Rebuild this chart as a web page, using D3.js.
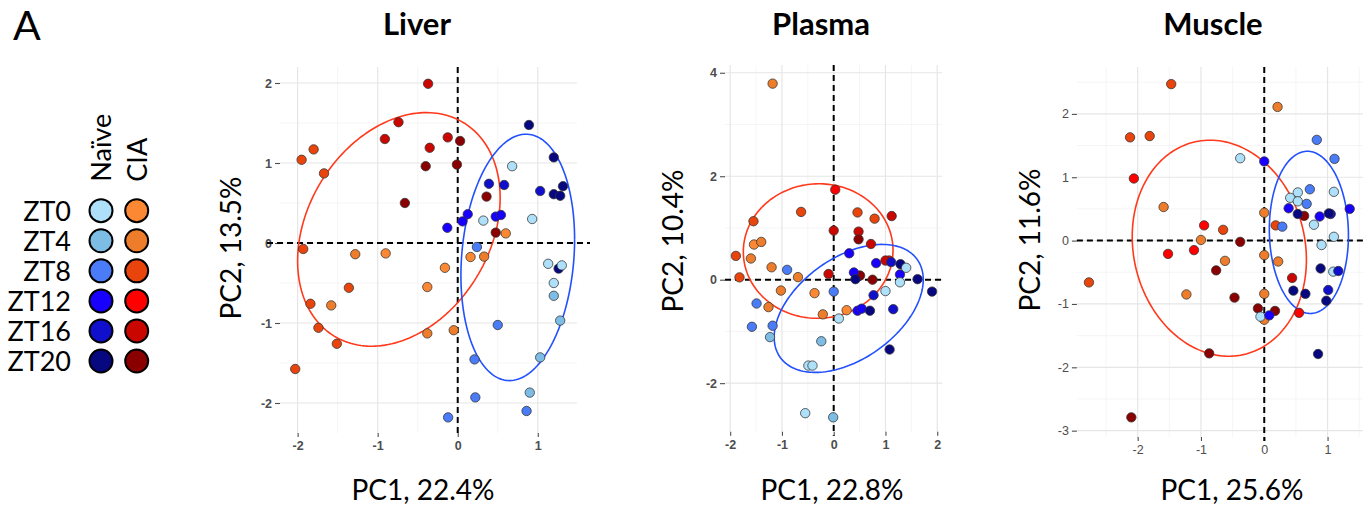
<!DOCTYPE html>
<html>
<head>
<meta charset="utf-8">
<script src="https://cdn.jsdelivr.net/npm/d3@7"></script>
<style>
  body { margin: 0; background: #fff; }
  svg { display: block; }
</style>
</head>
<body>
<script>
// ---- legend ----
const zts = ["ZT0", "ZT4", "ZT8", "ZT12", "ZT16", "ZT20"];
const ztHours = [0, 4, 8, 12, 16, 20];
const conditions = ["Naïve", "CIA"];
const naiveColors = ["#aee0fa", "#7cbce5", "#4a7cf8", "#1800ff", "#1010cc", "#07077f"];
const ciaColors = ["#fd8833", "#ee7d2b", "#e8440c", "#ff0000", "#c90700", "#8a0000"];

// ---- scores: [PC1, PC2, condition (0 = Naïve, 1 = CIA), ZT hour] ----
const liverPoints = [
  [-1.95, 1.04, 1, 8], [-1.80, 1.17, 1, 8], [-1.93, -0.075, 1, 8], [-2.03, -1.575, 1, 8],
  [-1.67, 0.87, 1, 8], [-1.84, -0.76, 1, 8], [-1.74, -1.06, 1, 8], [-1.51, -1.26, 1, 8], [-1.36, -0.56, 1, 8],
  [-0.37, 1.99, 1, 16], [-0.74, 1.51, 1, 16], [-0.91, 1.30, 1, 16], [-0.125, 1.32, 1, 16], [-0.35, 1.19, 1, 16],
  [0.03, 1.275, 1, 20], [-0.40, 0.96, 1, 20], [-0.01, 0.98, 1, 20], [-0.66, 0.50, 1, 20], [0.36, 0.58, 1, 20], [0.475, 0.13, 1, 20],
  [-1.28, -0.14, 1, 4], [-0.90, -0.13, 1, 0], [-1.58, -0.78, 1, 4], [-0.16, -0.31, 1, 0], [-0.38, -0.55, 1, 0],
  [-0.38, -1.13, 1, 4], [-0.05, -1.09, 1, 4], [0.16, -0.175, 1, 0], [0.33, -0.17, 1, 4], [0.60, 0.12, 1, 0],
  [0.89, 1.475, 0, 20], [1.20, 1.07, 0, 20], [1.20, 0.61, 0, 20], [1.28, 0.59, 0, 20], [1.315, 0.71, 0, 20], [1.26, -0.32, 0, 20],
  [1.03, 0.65, 0, 16], [0.39, 0.74, 0, 16], [0.58, 0.725, 0, 16],
  [0.125, 0.36, 0, 12], [0.06, 0.27, 0, 12], [-0.13, 0.19, 0, 12], [0.475, 0.33, 0, 12], [0.54, 0.35, 0, 12],
  [0.24, -0.05, 0, 8], [0.50, -1.025, 0, 8], [0.21, -1.455, 0, 8], [0.22, -1.93, 0, 8], [-0.12, -2.18, 0, 8], [0.86, -2.10, 0, 8],
  [0.68, 0.96, 0, 0], [0.93, 0.30, 0, 0], [0.32, 0.28, 0, 0], [1.13, -0.26, 0, 0], [1.30, -0.28, 0, 0], [1.20, -0.50, 0, 0],
  [1.20, -0.66, 0, 4], [1.28, -0.97, 0, 4], [1.03, -1.43, 0, 4], [0.90, -1.87, 0, 4]
];

const plasmaPoints = [
  [-1.18, 3.79, 1, 4], [-1.54, 0.68, 1, 0], [-1.40, 0.73, 1, 4], [-1.60, 0.41, 1, 4], [-1.20, 0.24, 1, 4],
  [-0.69, 0.05, 1, 4], [-1.02, -0.21, 1, 4], [-1.26, -0.53, 1, 4], [-0.37, -0.26, 1, 0], [-0.21, -0.67, 1, 4], [0.25, -0.59, 1, 0],
  [-1.55, 1.13, 1, 8], [-1.89, 0.46, 1, 8], [-1.82, 0.045, 1, 8], [-0.63, 1.31, 1, 8], [0.46, 1.30, 1, 8], [0.79, 1.18, 1, 8],
  [0.03, 1.74, 1, 12], [1.07, 0.37, 1, 12],
  [1.12, 1.23, 1, 16], [0.0, 0.95, 1, 16], [0.48, 0.93, 1, 16], [0.72, 0.69, 1, 16], [-0.10, 0.11, 1, 16], [1.0, 0.37, 1, 16],
  [0.48, 0.78, 1, 20], [0.51, 0.08, 1, 20], [0.75, 0.0, 1, 20],
  [0.30, 0.51, 0, 12], [0.82, 0.32, 0, 12], [0.39, 0.14, 0, 12], [0.46, -0.60, 0, 12], [0.54, -0.56, 0, 12], [1.28, 0.10, 0, 12],
  [1.11, 0.34, 0, 16], [0.77, -0.30, 0, 16], [1.15, -0.57, 0, 16],
  [1.29, 0.30, 0, 20], [0.42, 0.01, 0, 20], [1.62, 0.01, 0, 20], [1.90, -0.23, 0, 20], [0.70, -0.60, 0, 20], [1.08, -1.35, 0, 20],
  [0.0, -0.23, 0, 8], [-1.49, -0.46, 0, 8], [-1.58, -0.91, 0, 8], [-1.18, -0.89, 0, 8], [-0.90, 0.19, 0, 8],
  [1.40, 0.23, 0, 0], [1.28, -0.05, 0, 0], [1.0, -0.22, 0, 0], [0.10, -0.75, 0, 0], [-0.49, -1.66, 0, 0], [-0.41, -1.66, 0, 0], [-0.55, -2.58, 0, 0],
  [-1.23, -1.11, 0, 4], [-0.24, -1.19, 0, 4], [-0.01, -2.66, 0, 4]
];

const musclePoints = [
  [-1.47, 2.47, 1, 8], [-2.12, 1.63, 1, 8], [-1.81, 1.65, 1, 8], [0.18, 0.24, 1, 8], [-0.65, 0.17, 1, 8], [-2.77, -0.66, 1, 8],
  [-2.06, 0.98, 1, 12], [-0.95, 0.24, 1, 12], [-1.52, -0.21, 1, 12], [-1.11, -0.15, 1, 12], [0.55, -1.14, 1, 12],
  [0.44, -0.59, 1, 16],
  [-0.38, -0.02, 1, 20], [-0.76, -0.47, 1, 20], [-0.47, -0.90, 1, 20], [-0.10, -1.07, 1, 20], [-0.87, -1.78, 1, 20],
  [-2.10, -2.79, 1, 20], [0.17, -1.11, 1, 20], [0.63, 0.39, 1, 20],
  [0.21, 2.11, 1, 4], [-1.59, 0.53, 1, 4], [-1.0, 0.01, 1, 4], [-0.62, -0.32, 1, 4], [-1.23, -0.85, 1, 4],
  [0.0, 0.44, 1, 4], [0.0, -0.23, 1, 4], [0.22, -0.33, 1, 4], [0.0, -0.84, 1, 4], [0.0, -1.25, 1, 4],
  [-0.38, 1.30, 0, 0], [0.53, 0.76, 0, 0], [0.41, 0.675, 0, 0], [0.53, 0.62, 0, 0], [1.10, 0.77, 0, 0],
  [0.785, 0.25, 0, 0], [1.10, 0.06, 0, 0], [0.905, -0.07, 0, 0], [1.09, -0.49, 0, 0], [-0.06, -1.20, 0, 0],
  [0.83, 1.59, 0, 8], [1.11, 1.29, 0, 8], [0.72, 0.81, 0, 8], [0.67, 0.58, 0, 8], [0.285, 0.22, 0, 8],
  [0.0, 1.25, 0, 12], [0.385, 0.51, 0, 12], [0.875, 0.38, 0, 12], [1.35, 0.50, 0, 12], [0.08, -1.18, 0, 12],
  [1.05, 0.42, 0, 16], [1.17, -0.48, 0, 16], [1.01, -0.78, 0, 16],
  [0.53, 0.42, 0, 20], [1.02, 0.43, 0, 20], [0.89, -0.44, 0, 20], [0.46, -0.79, 0, 20], [0.65, -0.84, 0, 20],
  [0.98, -0.95, 0, 20], [0.85, -1.79, 0, 20]
];

// ---- confidence ellipses: [condition, centre PC1, centre PC2, half-width, half-height, cross term] ----
const liverEllipses = [[1, -0.735, 0.17, 1.265, 1.46, 0.50], [0, 0.75, -0.18, 0.71, 1.54, 0.16]];
const plasmaEllipses = [[1, -0.30, 0.554, 1.446, 1.30, 0.02], [0, 0.29, -0.555, 1.44, 1.237, 0.80]];
const muscleEllipses = [[1, -0.71, -0.12, 1.376, 1.705, -0.25], [0, 0.705, 0.13, 0.625, 1.28, -0.03]];

// ---- axes ----
const liverTicksX = [-2, -1, 0, 1];
const liverTicksY = [-2, -1, 0, 1, 2];
const plasmaTicksX = [-2, -1, 0, 1, 2];
const plasmaTicksY = [-2, 0, 2, 4];
const muscleTicksX = [-2, -1, 0, 1];
const muscleTicksY = [-3, -2, -1, 0, 1, 2];
const tissues = ["Liver", "Plasma", "Muscle"];
const pc1Labels = ["PC1, 22.4%", "PC1, 22.8%", "PC1, 25.6%"];
const pc2Labels = ["PC2, 13.5%", "PC2, 10.4%", "PC2, 11.6%"];

const ellipseColors = ["#2350ff", "#ff3a1c"];
const textFont = "Lato, 'Open Sans', sans-serif";

const W = 1369, H = 509;
const svg = d3.select("body").append("svg").attr("width", W).attr("height", H);

const panels = [
  { points: liverPoints, ellipses: liverEllipses, ticksX: liverTicksX, ticksY: liverTicksY,
    xDom: [-2.22, 1.49], xRange: [280, 577], yDom: [-2.375, 2.2], yRange: [433, 67],
    hExtend: 13, boldTicks: true, titleX: 417, pc1X: 423, pc2X: 241, pc2Y: 248 },
  { points: plasmaPoints, ellipses: plasmaEllipses, ticksX: plasmaTicksX, ticksY: plasmaTicksY,
    xDom: [-2.1, 2.1], xRange: [725, 942.4], yDom: [-2.94, 4.15], yRange: [431.8, 65],
    hExtend: 0, boldTicks: true, titleX: 821, pc1X: 832, pc2X: 683, pc2Y: 241 },
  { points: musclePoints, ellipses: muscleEllipses, ticksX: muscleTicksX, ticksY: muscleTicksY,
    xDom: [-2.96, 1.56], xRange: [1076.9, 1363.0], yDom: [-3.1, 2.74], yRange: [437, 67],
    hExtend: 0, boldTicks: false, titleX: 1213, pc1X: 1232, pc2X: 1040, pc2Y: 240 }
];

function minorBreaks(ticks, dom) {
  const step = ticks[1] - ticks[0];
  const out = [];
  for (let v = ticks[0] - step / 2; v <= dom[1]; v += step) {
    if (v >= dom[0]) out.push(v);
  }
  return out;
}

function ellipsePath(e, x, y) {
  const [, cx, cy, hx, hy, sxy] = e;
  const a = hx, c = sxy / hx, d = Math.sqrt(hy * hy - c * c);
  const pts = d3.range(0, 2 * Math.PI + 0.001, Math.PI / 90).map(t => [
    cx + a * Math.cos(t),
    cy + c * Math.cos(t) + d * Math.sin(t)
  ]);
  return d3.line().x(p => x(p[0])).y(p => y(p[1]))(pts);
}

panels.forEach((p, i) => {
  const x = d3.scaleLinear().domain(p.xDom).range(p.xRange);
  const y = d3.scaleLinear().domain(p.yDom).range(p.yRange);
  const g = svg.append("g");
  const [x0, x1] = p.xRange, [y0, y1] = [p.yRange[1], p.yRange[0]];

  // minor grid
  g.selectAll(".mx").data(minorBreaks(p.ticksX, p.xDom)).join("line")
    .attr("x1", d => x(d)).attr("x2", d => x(d)).attr("y1", y0).attr("y2", y1)
    .attr("stroke", "#f2f2f2").attr("stroke-width", 0.8);
  g.selectAll(".my").data(minorBreaks(p.ticksY, p.yDom)).join("line")
    .attr("y1", d => y(d)).attr("y2", d => y(d)).attr("x1", x0).attr("x2", x1)
    .attr("stroke", "#f2f2f2").attr("stroke-width", 0.8);
  // major grid
  g.selectAll(".gx").data(p.ticksX).join("line")
    .attr("x1", d => x(d)).attr("x2", d => x(d)).attr("y1", y0).attr("y2", y1)
    .attr("stroke", "#e6e6e6").attr("stroke-width", 1.2);
  g.selectAll(".gy").data(p.ticksY).join("line")
    .attr("y1", d => y(d)).attr("y2", d => y(d)).attr("x1", x0).attr("x2", x1)
    .attr("stroke", "#e6e6e6").attr("stroke-width", 1.2);

  // axes (tick marks and labels)
  const tickColor = "#4d4d4d";
  const xAxis = d3.axisBottom(x).tickValues(p.ticksX).tickSize(4).tickPadding(4).tickFormat(d3.format("d"));
  const yAxis = d3.axisLeft(y).tickValues(p.ticksY).tickSize(5).tickPadding(3).tickFormat(d3.format("d"));
  const ax = g.append("g").attr("transform", `translate(0,${y1})`).call(xAxis);
  const ay = g.append("g").attr("transform", `translate(${x0},0)`).call(yAxis);
  [ax, ay].forEach(a => {
    a.select(".domain").remove();
    a.selectAll("line").attr("stroke", tickColor).attr("stroke-width", 1.1);
    a.selectAll("text")
      .attr("fill", tickColor)
      .style("font-family", "'Liberation Sans', Arial, sans-serif")
      .style("font-size", "12.5px")
      .style("font-weight", p.boldTicks ? "bold" : "normal")
      .text(d => String(d));
  });

  // reference lines at zero
  g.append("line").attr("x1", x0 - p.hExtend).attr("x2", x1 + p.hExtend)
    .attr("y1", y(0)).attr("y2", y(0))
    .attr("stroke", "#000").attr("stroke-width", 2).attr("stroke-dasharray", "6,4");
  g.append("line").attr("x1", x(0)).attr("x2", x(0))
    .attr("y1", y0).attr("y2", y1 + 4)
    .attr("stroke", "#000").attr("stroke-width", 2).attr("stroke-dasharray", "6,4");

  // ellipses
  g.selectAll(".ell").data(p.ellipses).join("path")
    .attr("d", e => ellipsePath(e, x, y))
    .attr("fill", "none")
    .attr("stroke", e => ellipseColors[e[0]])
    .attr("stroke-width", 1.6);

  // samples
  g.selectAll(".pt").data(p.points).join("circle")
    .attr("cx", d => x(d[0])).attr("cy", d => y(d[1])).attr("r", 4.7)
    .attr("fill", d => (d[2] === 1 ? ciaColors : naiveColors)[ztHours.indexOf(d[3])])
    .attr("stroke", "#333").attr("stroke-opacity", 0.85).attr("stroke-width", 0.9);

  // titles
  svg.append("text").attr("x", p.titleX).attr("y", 35).attr("text-anchor", "middle")
    .style("font-family", textFont).style("font-weight", "bold").style("font-size", "31px")
    .text(tissues[i]);
  svg.append("text").attr("x", p.pc1X).attr("y", 500).attr("text-anchor", "middle")
    .style("font-family", textFont).style("font-size", "28px")
    .text(pc1Labels[i]);
  svg.append("text").attr("transform", `translate(${p.pc2X},${p.pc2Y}) rotate(-90)`)
    .attr("text-anchor", "middle")
    .style("font-family", textFont).style("font-size", "28px")
    .text(pc2Labels[i]);
});

// ---- panel letter and colour key ----
svg.append("text").attr("x", 13).attr("y", 40)
  .style("font-family", textFont).style("font-size", "41px").text("A");

const keyX = [101, 136.7];
const rowY = d3.scalePoint().domain(zts).range([210.7, 361]);
conditions.forEach((c, j) => {
  svg.append("text").attr("transform", `translate(${keyX[j] + 10},181.7) rotate(-90)`)
    .style("font-family", textFont).style("font-size", "27px").text(c);
});
zts.forEach((z, k) => {
  svg.append("text").attr("x", 71).attr("y", rowY(z) + 10).attr("text-anchor", "end")
    .style("font-family", textFont).style("font-size", "27px").text(z);
  [naiveColors, ciaColors].forEach((cols, j) => {
    svg.append("circle").attr("cx", keyX[j]).attr("cy", rowY(z)).attr("r", 11.5)
      .attr("fill", cols[k]).attr("stroke", "#000").attr("stroke-width", 2);
  });
});
</script>
</body>
</html>
